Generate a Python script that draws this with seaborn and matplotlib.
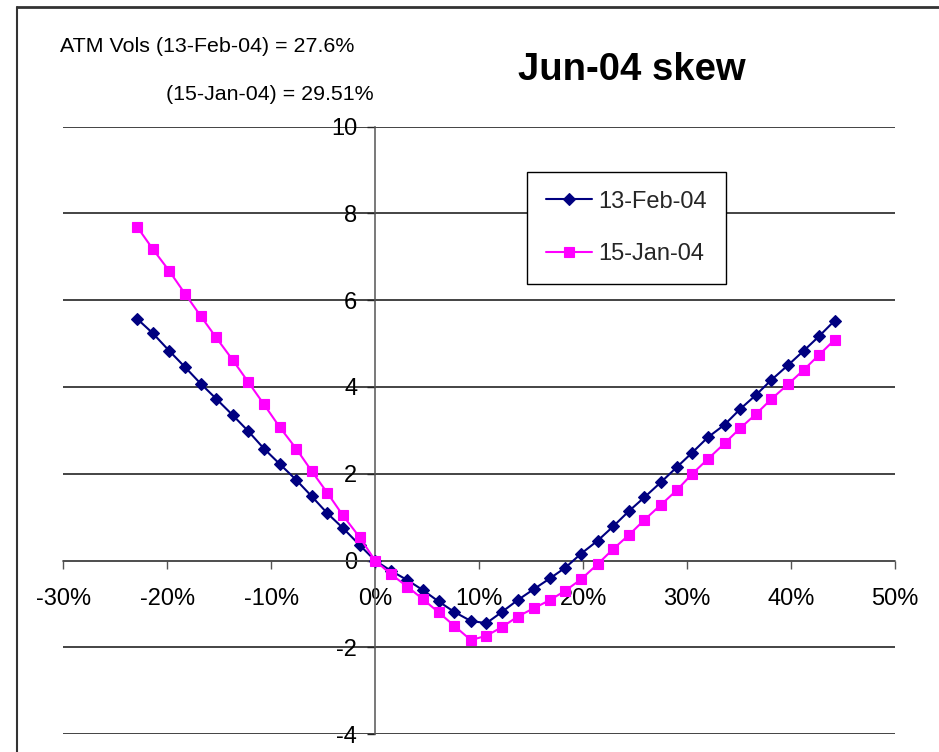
import matplotlib
matplotlib.use("Agg")
import matplotlib.pyplot as plt
import seaborn as sns
import pandas as pd
from matplotlib.lines import Line2D

# Strike moneyness relative to ATM, in percent
moneyness = [-22.9, -21.4, -19.8, -18.3, -16.8, -15.3, -13.7, -12.2, -10.7, -9.2,
             -7.6, -6.1, -4.6, -3.1, -1.5, 0.0, 1.5, 3.1, 4.6, 6.1,
             7.6, 9.2, 10.7, 12.2, 13.7, 15.3, 16.8, 18.3, 19.8, 21.4,
             22.9, 24.4, 25.9, 27.5, 29.0, 30.5, 32.0, 33.6, 35.1, 36.6,
             38.1, 39.7, 41.2, 42.7, 44.2]

# Vol spread to ATM (vol points)
skew_13feb = [5.57, 5.24, 4.83, 4.46, 4.08, 3.73, 3.35, 2.98, 2.58, 2.23,
              1.86, 1.48, 1.09, 0.75, 0.36, 0.00, -0.23, -0.45, -0.68, -0.94,
              -1.18, -1.39, -1.44, -1.18, -0.91, -0.65, -0.41, -0.16, 0.16, 0.46,
              0.79, 1.14, 1.46, 1.81, 2.15, 2.49, 2.84, 3.13, 3.49, 3.81,
              4.16, 4.50, 4.83, 5.17, 5.53]
skew_15jan = [7.69, 7.18, 6.67, 6.15, 5.64, 5.14, 4.62, 4.11, 3.60, 3.08,
              2.58, 2.06, 1.56, 1.04, 0.54, 0.00, -0.31, -0.60, -0.89, -1.19,
              -1.50, -1.83, -1.73, -1.53, -1.29, -1.09, -0.91, -0.69, -0.43, -0.08,
              0.27, 0.59, 0.94, 1.29, 1.62, 2.00, 2.34, 2.70, 3.05, 3.37,
              3.72, 4.06, 4.39, 4.74, 5.09]

series_names = ["13-Feb-04", "15-Jan-04"]
series_colors = ["#000080", "#FF00FF"]

x_ticks = [-30, -20, -10, 0, 10, 20, 30, 40, 50]
x_tick_labels = ["-30%", "-20%", "-10%", "0%", "10%", "20%", "30%", "40%", "50%"]
y_ticks = [-4, -2, 0, 2, 4, 6, 8, 10]
y_tick_labels = ["-4", "-2", "0", "2", "4", "6", "8", "10"]

title_text = "Jun-04 skew"
atm_line1 = "ATM Vols (13-Feb-04) = 27.6%"
atm_line2 = "(15-Jan-04) = 29.51%"

sns.set_theme(style="white")
plt.rcParams["font.family"] = ["Liberation Sans", "DejaVu Sans"]
plt.rcParams["axes.unicode_minus"] = False

W, H = 939, 752
fig = plt.figure(figsize=(W / 100, H / 100), dpi=100)
fig.patch.set_facecolor("white")

x0, x1 = 63.3, 895.0
ytop, ybot = 126.5, 734.3
ax = fig.add_axes([x0 / W, 1 - ybot / H, (x1 - x0) / W, (ybot - ytop) / H])
ax.set_facecolor("white")

df = pd.DataFrame({
    "moneyness": moneyness * 2,
    "skew": skew_13feb + skew_15jan,
    "date": [series_names[0]] * len(moneyness) + [series_names[1]] * len(moneyness),
})

marker_styles = {series_names[0]: ("D", 5.8), series_names[1]: ("s", 7.3)}
for name, color in zip(series_names, series_colors):
    mk, ms = marker_styles[name]
    sns.lineplot(data=df[df["date"] == name], x="moneyness", y="skew",
                 color=color, marker=mk, markersize=ms,
                 markeredgecolor=color, markeredgewidth=0.8,
                 linewidth=1.5, label=name, ax=ax, sort=False)

ax.set_xlim(-30, 50)
ax.set_ylim(-4, 10)
ax.set_xticks(x_ticks)
ax.set_xticklabels(x_tick_labels)
ax.set_yticks(y_ticks)
ax.set_yticklabels(y_tick_labels)
ax.set_xlabel("")
ax.set_ylabel("")

ax.yaxis.grid(True, color="#111111", linewidth=1.1)
ax.xaxis.grid(False)
ax.set_axisbelow(True)

for side in ("top", "right"):
    ax.spines[side].set_visible(False)
ax.spines["left"].set_position(("data", 0))
ax.spines["bottom"].set_position(("data", 0))
for side in ("left", "bottom"):
    ax.spines[side].set_color("#555555")
    ax.spines[side].set_linewidth(1.1)
    ax.spines[side].set_zorder(1.5)

ax.tick_params(axis="x", bottom=True, direction="out", length=6, width=1,
               color="#555555", pad=14, labelsize=17, labelcolor="black")
ax.tick_params(axis="y", left=True, direction="out", length=6, width=1,
               color="#222222", pad=7, labelsize=17, labelcolor="black")

leg = ax.legend(loc="upper left", bbox_to_anchor=(526.7 / W, 1 - 171.7 / H),
                bbox_transform=fig.transFigure, frameon=True, fancybox=False,
                edgecolor="black", framealpha=1, fontsize=17,
                handlelength=1.95, handletextpad=0.3, borderpad=0.8,
                labelspacing=1.3, borderaxespad=0)
leg.get_frame().set_linewidth(1.0)

fig.text(60 / W, 1 - 51.7 / H, atm_line1, ha="left", va="baseline",
         fontsize=15.4, color="black")
fig.text(166 / W, 1 - 99.5 / H, atm_line2, ha="left", va="baseline",
         fontsize=15.4, color="black")
fig.text(631.5 / W, 1 - 80 / H, title_text, ha="center", va="baseline",
         fontsize=27.5, fontweight="bold", color="black")

# Chart-area frame (left and top edges)
fig.add_artist(Line2D([17 / W, 17 / W], [0, 1 - 7 / H], transform=fig.transFigure,
                      color="#333333", linewidth=1.5))
fig.add_artist(Line2D([17 / W, 1], [1 - 7 / H, 1 - 7 / H], transform=fig.transFigure,
                      color="#333333", linewidth=2.0))

fig.savefig("out.png", dpi=100)
